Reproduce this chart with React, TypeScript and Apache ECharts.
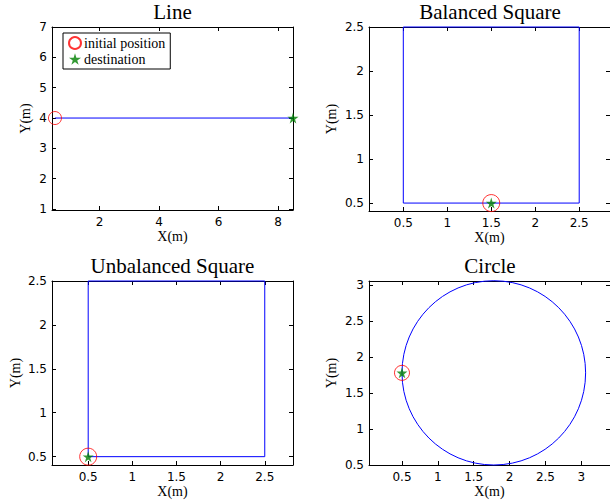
import React, { useEffect, useRef } from "react";
import * as echarts from "echarts";

// Trajectories (metres)
const lineX = [0.5, 8.5];
const lineY = [4, 4];
const balancedX = [1.5, 2.5, 2.5, 0.5, 0.5, 1.5];
const balancedY = [0.5, 0.5, 2.5, 2.5, 0.5, 0.5];
const unbalancedX = [0.5, 2.5, 2.5, 0.5, 0.5];
const unbalancedY = [0.5, 0.5, 2.5, 2.5, 0.5];
const circleCenter = [1.78, 1.78];
const circleRadius = 1.28;

// Start / goal points per panel: [x, y]
const initialPoints = [[0.5, 4], [1.5, 0.5], [0.5, 0.5], [0.5, 1.78]];
const destinationPoints = [[8.5, 4], [1.5, 0.5], [0.5, 0.5], [0.5, 1.78]];

// Panel titles and tick values
const titles = ["Line", "Balanced Square", "Unbalanced Square", "Circle"];
const xTicks = [
  [2, 4, 6, 8],
  [0.5, 1, 1.5, 2, 2.5],
  [0.5, 1, 1.5, 2, 2.5],
  [0.5, 1, 1.5, 2, 2.5, 3],
];
const yTicks = [
  [1, 2, 3, 4, 5, 6, 7],
  [0.5, 1, 1.5, 2, 2.5],
  [0.5, 1, 1.5, 2, 2.5],
  [0.5, 1, 1.5, 2, 2.5, 3],
];
const xRanges = [[0.4, 8.5], [0.11, 2.85], [0.09, 2.82], [0.04, 3.4]];
const yRanges = [[0.97, 7], [0.41, 2.5], [0.405, 2.5], [0.5, 3.056]];

const SERIF = "'Liberation Serif', 'DejaVu Serif', serif";
const SANS = "'DejaVu Sans', sans-serif";
const STAR =
  "path://M50,0 L61,35 L98,35 L68,57 L79,91 L50,70 L21,91 L32,57 L2,35 L39,35 Z";

const grids = [
  { left: 52, top: 27, width: 241, height: 183 },
  { left: 369, top: 27, width: 242, height: 184 },
  { left: 52, top: 281, width: 241, height: 184 },
  { left: 369, top: 281, width: 242, height: 184 },
];
const yNameGaps = [20, 31, 30, 31];
const circleSizes = [13, 17, 17, 15];

function buildOption() {
  const xAxis: any[] = [];
  const yAxis: any[] = [];
  const series: any[] = [];

  const lineStyle = { color: "#000", width: 1 };

  grids.forEach((_, i) => {
    const base = { type: "value", gridIndex: i, splitLine: { show: false } };
    // bottom x axis with labels
    xAxis.push({
      ...base,
      min: xRanges[i][0],
      max: xRanges[i][1],
      position: "bottom",
      axisLine: { show: true, onZero: false, lineStyle },
      axisTick: { show: true, inside: true, length: 4, customValues: xTicks[i], lineStyle },
      axisLabel: {
        customValues: xTicks[i],
        margin: 6,
        color: "#000",
        fontFamily: SANS,
        fontSize: 12,
      },
      name: "X(m)",
      nameLocation: "middle",
      nameGap: 19,
      nameTextStyle: { fontFamily: SERIF, fontSize: 14, color: "#000" },
    });
    // top x axis: box edge with ticks
    xAxis.push({
      ...base,
      min: xRanges[i][0],
      max: xRanges[i][1],
      position: "top",
      axisLine: { show: true, onZero: false, lineStyle },
      axisTick: { show: true, inside: true, length: 4, customValues: xTicks[i], lineStyle },
      axisLabel: { show: false },
    });
    yAxis.push({
      ...base,
      min: yRanges[i][0],
      max: yRanges[i][1],
      position: "left",
      axisLine: { show: true, onZero: false, lineStyle },
      axisTick: { show: true, inside: true, length: 4, customValues: yTicks[i], lineStyle },
      axisLabel: {
        customValues: yTicks[i],
        margin: 5,
        color: "#000",
        fontFamily: SANS,
        fontSize: 12,
      },
      name: "Y(m)",
      nameLocation: "middle",
      nameGap: yNameGaps[i],
      nameTextStyle: { fontFamily: SERIF, fontSize: 14, color: "#000" },
    });
    yAxis.push({
      ...base,
      min: yRanges[i][0],
      max: yRanges[i][1],
      position: "right",
      axisLine: { show: true, onZero: false, lineStyle },
      axisTick: { show: true, inside: true, length: 4, customValues: yTicks[i], lineStyle },
      axisLabel: { show: false },
    });
  });

  const pathSeries = (i: number, xs: number[], ys: number[]) => ({
    type: "line",
    xAxisIndex: i * 2,
    yAxisIndex: i * 2,
    data: xs.map((x, k) => [x, ys[k]]),
    showSymbol: false,
    clip: false,
    lineStyle: { color: "#0000ff", width: 1 },
    silent: true,
    z: 2,
  });

  series.push(pathSeries(0, lineX, lineY));
  series.push(pathSeries(1, balancedX, balancedY));
  series.push(pathSeries(2, unbalancedX, unbalancedY));
  series.push({
    type: "custom",
    xAxisIndex: 6,
    yAxisIndex: 6,
    data: [[circleCenter[0], circleCenter[1], circleRadius]],
    clip: false,
    z: 2,
    renderItem: (params: any, api: any) => {
      const c = api.coord([api.value(0), api.value(1)]);
      const r = api.size([api.value(2), api.value(2)]);
      return {
        type: "ellipse",
        shape: { cx: c[0], cy: c[1], rx: r[0], ry: r[1] },
        style: { fill: "none", stroke: "#0000ff", lineWidth: 1 },
      };
    },
  });

  grids.forEach((_, i) => {
    series.push({
      type: "scatter",
      name: "initial position",
      xAxisIndex: i * 2,
      yAxisIndex: i * 2,
      data: [initialPoints[i]],
      symbol: "circle",
      symbolSize: circleSizes[i],
      clip: false,
      itemStyle: { color: "rgba(0,0,0,0)", borderColor: "#ff0000", borderWidth: 1 },
      z: 3,
    });
    series.push({
      type: "scatter",
      name: "destination",
      xAxisIndex: i * 2,
      yAxisIndex: i * 2,
      data: [destinationPoints[i]],
      symbol: STAR,
      symbolSize: 11,
      clip: false,
      itemStyle: { color: "#008000" },
      z: 4,
    });
  });

  const title = grids.map((g, i) => ({
    text: titles[i],
    left: g.left + g.width / 2,
    top: g.top - 26,
    textAlign: "center",
    padding: 0,
    textStyle: { fontFamily: SERIF, fontSize: 21, fontWeight: "normal", color: "#000" },
  }));

  return {
    animation: false,
    backgroundColor: "#fff",
    title,
    grid: grids.map((g) => ({ ...g, containLabel: false })),
    xAxis,
    yAxis,
    legend: {
      data: ["initial position", "destination"],
      orient: "vertical",
      left: 63,
      top: 33,
      itemWidth: 12,
      itemHeight: 12,
      itemGap: 2,
      padding: [3, 5, 3, 5],
      backgroundColor: "#fff",
      borderColor: "#000",
      borderWidth: 1,
      borderRadius: 0,
      selectedMode: false,
      textStyle: { fontFamily: SERIF, fontSize: 14, color: "#000", padding: [0, 0, 0, -2] },
    },
    series,
  };
}

export default function App() {
  const ref = useRef<HTMLDivElement>(null);
  useEffect(() => {
    if (!ref.current) return;
    const chart = echarts.init(ref.current, undefined, { renderer: "svg" });
    chart.setOption(buildOption() as any);
    return () => chart.dispose();
  }, []);
  return (
    <div
      ref={ref}
      style={{ position: "fixed", left: 0, top: 0, width: 610, height: 502 }}
    />
  );
}
